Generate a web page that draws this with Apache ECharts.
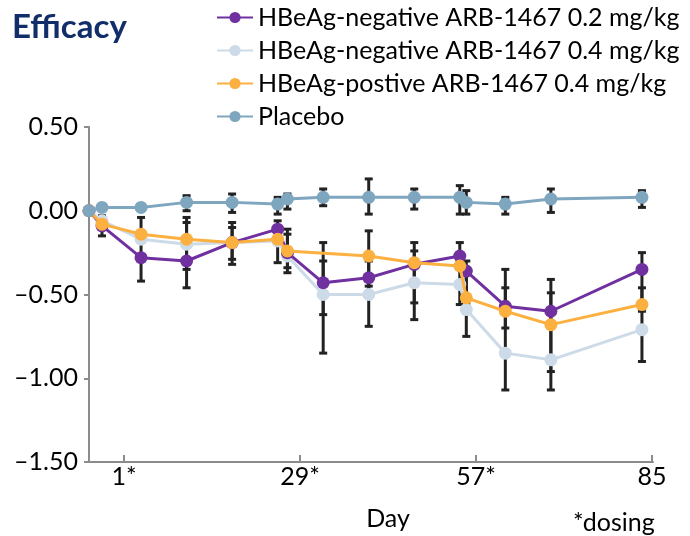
<!DOCTYPE html>
<html><head><meta charset="utf-8">
<script src="https://cdn.jsdelivr.net/npm/echarts@6/dist/echarts.min.js"></script>
<style>html,body{margin:0;padding:0;background:#fff}#c{width:690px;height:536px}</style>
</head><body><div id="c"></div>
<script>
// ---- data ----
const seriesNames = ['HBeAg-negative ARB-1467 0.2 mg/kg','HBeAg-negative ARB-1467 0.4 mg/kg','HBeAg-postive ARB-1467 0.4 mg/kg','Placebo'];
const days     = [0, 2, 8, 15, 22, 29, 30.5, 36, 43, 50, 57, 58, 64, 71, 85];
const neg02    = [0, -0.09, -0.28, -0.30, -0.19, -0.11, -0.25, -0.43, -0.40, -0.32, -0.27, -0.36, -0.57, -0.60, -0.35];
const neg04    = [0, -0.06, -0.17, -0.20, -0.19, -0.18, -0.27, -0.50, -0.50, -0.43, -0.44, -0.59, -0.85, -0.89, -0.71];
const posDays  = [0, 2, 8, 15, 22, 29, 30.5, 43, 50, 57, 58, 64, 71, 85];
const pos04    = [0, -0.08, -0.14, -0.17, -0.19, -0.17, -0.24, -0.27, -0.31, -0.33, -0.52, -0.60, -0.68, -0.56];
const placebo  = [0, 0.02, 0.02, 0.05, 0.05, 0.04, 0.07, 0.08, 0.08, 0.08, 0.08, 0.05, 0.04, 0.07, 0.08];
// error bars (day, low, high)
const errDay  = [2, 8, 15, 15, 15, 22, 22, 22, 29, 29, 30.5, 30.5, 30.5, 36, 36, 36, 43, 43, 43, 50, 50, 50, 57, 57, 58, 58, 58, 64, 64, 64, 71, 71, 71, 85, 85, 85];
const errLow  = [-0.15, -0.42, 0.00, -0.46, -0.35, -0.01, -0.32, -0.29, -0.02, -0.31, 0.01, -0.37, -0.34, 0.03, -0.85, -0.62, -0.02, -0.69, -0.45, 0.01, -0.65, -0.55, -0.02, -0.56, -0.02, -0.75, -0.56, -0.02, -1.07, -0.70, -0.01, -1.07, -0.96, 0.02, -0.90, -0.60];
const errHigh = [-0.03, -0.04, 0.09, -0.04, -0.07, 0.10, -0.07, -0.10, 0.08, -0.06, 0.10, -0.11, -0.14, 0.13, -0.19, -0.30, 0.19, -0.12, -0.30, 0.13, -0.19, -0.24, 0.15, -0.19, 0.12, -0.30, -0.35, 0.08, -0.35, -0.46, 0.13, -0.41, -0.49, 0.12, -0.25, -0.46];
const tickDays   = [1, 29, 57, 85];
const tickLabels = ['1*', '29*', '57*', '85'];

const colors = ['#7030a0', '#cddbe8', '#fbb040', '#7fa6bf'];
const FONT = 'Lato';

const zip = (xs, ys) => xs.map((x, i) => [x, ys[i]]);
const errData = errDay.map((d, i) => [d, errLow[i], errHigh[i]]);

const chart = echarts.init(document.getElementById('c'));
chart.setOption({
  animation: false,
  textStyle: { fontFamily: FONT },
  title: [
    { text: 'Efficacy', left: 12, top: 11, padding: 0, textStyle: { fontFamily: FONT, fontSize: 33, fontWeight: 'bold', color: '#112d6a' } },
    { text: '*dosing', left: 573, top: 510, padding: 0, textStyle: { fontFamily: FONT, fontSize: 25, fontWeight: 'normal', color: '#000' } }
  ],
  legend: {
    orient: 'vertical', left: 211, top: 0, itemWidth: 36, itemHeight: 14, itemGap: 8,
    data: seriesNames,
    textStyle: { fontFamily: FONT, fontSize: 25, color: '#000', lineHeight: 25 }
  },
  grid: [
    { left: 89, right: 37, top: 127, bottom: 74 },
    { left: 124, right: 38, top: 127, bottom: 74 }
  ],
  xAxis: [
    { type: 'value', gridIndex: 0, min: 0, max: 86.7, position: 'bottom',
      axisLine: { show: true, onZero: false, lineStyle: { color: '#8c8c8c', width: 2 } },
      axisTick: { show: false }, axisLabel: { show: false }, splitLine: { show: false } },
    { type: 'value', gridIndex: 1, min: 1, max: 85, interval: 28, position: 'bottom',
      axisLine: { show: false, onZero: false },
      axisTick: { show: true, length: 6, lineStyle: { color: '#8c8c8c', width: 2 } },
      axisLabel: { margin: 9, fontFamily: FONT, fontSize: 25, color: '#000',
        formatter: v => { const i = tickDays.indexOf(Math.round(v)); return i >= 0 ? tickLabels[i] : ''; } },
      splitLine: { show: false },
      name: 'Day', nameLocation: 'middle', nameGap: 51,
      nameTextStyle: { fontFamily: FONT, fontSize: 25, color: '#000' } }
  ],
  yAxis: [
    { type: 'value', gridIndex: 0, min: -1.5, max: 0.5, interval: 0.5,
      axisLine: { show: true, onZero: false, lineStyle: { color: '#8c8c8c', width: 2 } },
      axisTick: { show: true, length: 5, lineStyle: { color: '#8c8c8c', width: 2 } },
      axisLabel: { margin: 11, fontFamily: FONT, fontSize: 25, color: '#000',
        formatter: v => (v < 0 ? '\u2013' : '') + Math.abs(v).toFixed(2) },
      splitLine: { show: false } },
    { type: 'value', gridIndex: 1, min: -1.5, max: 0.5, show: false }
  ],
  series: [
    { type: 'custom', name: 'err', xAxisIndex: 0, yAxisIndex: 0, z: 1, silent: true,
      encode: { x: 0, y: [1, 2] },
      data: errData,
      renderItem: (params, api) => {
        const lo = api.coord([api.value(0), api.value(1)]);
        const hi = api.coord([api.value(0), api.value(2)]);
        const x = lo[0], w = 4;
        const style = { stroke: '#222', lineWidth: 3 };
        return { type: 'group', children: [
          { type: 'line', shape: { x1: x, y1: lo[1], x2: x, y2: hi[1] }, style },
          { type: 'line', shape: { x1: x - w, y1: lo[1], x2: x + w, y2: lo[1] }, style },
          { type: 'line', shape: { x1: x - w, y1: hi[1], x2: x + w, y2: hi[1] }, style }
        ] };
      }
    },
    { type: 'line', name: seriesNames[1], data: zip(days, neg04), color: colors[1], z: 2,
      symbol: 'circle', symbolSize: 13, lineStyle: { width: 3 } },
    { type: 'line', name: seriesNames[0], data: zip(days, neg02), color: colors[0], z: 3,
      symbol: 'circle', symbolSize: 13, lineStyle: { width: 3 } },
    { type: 'line', name: seriesNames[2], data: zip(posDays, pos04), color: colors[2], z: 4,
      symbol: 'circle', symbolSize: 13, lineStyle: { width: 3 } },
    { type: 'line', name: seriesNames[3], data: zip(days, placebo), color: colors[3], z: 5,
      symbol: 'circle', symbolSize: 13, lineStyle: { width: 3 } }
  ]
});
</script></body></html>
